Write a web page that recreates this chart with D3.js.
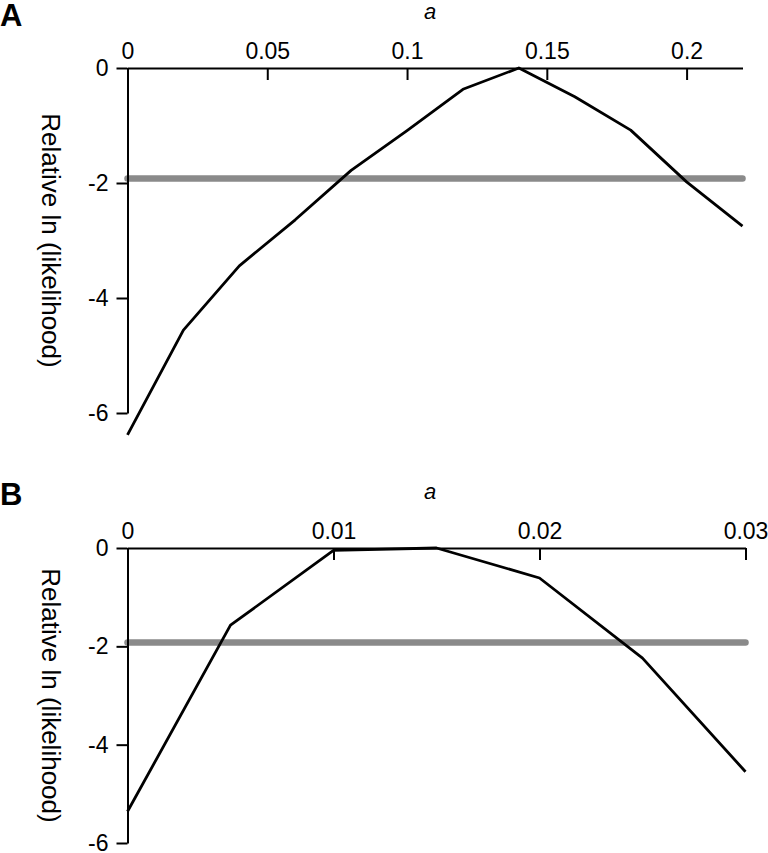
<!DOCTYPE html>
<html>
<head>
<meta charset="utf-8">
<script src="https://cdn.jsdelivr.net/npm/d3@7"></script>
<style>
  html, body { margin: 0; padding: 0; background: #fff; }
  svg { display: block; font-family: "Liberation Sans", Arial, sans-serif; }
</style>
</head>
<body>
<svg id="chart" width="768" height="853"></svg>
<script>
// Panel A data
const aValuesA = [0, 0.02, 0.04, 0.06, 0.08, 0.10, 0.12, 0.14, 0.16, 0.18, 0.20, 0.22];
const llValuesA = [-6.38, -4.56, -3.44, -2.64, -1.78, -1.09, -0.37, 0, -0.5, -1.08, -1.98, -2.75];
const xTicksA = [0, 0.05, 0.1, 0.15, 0.2];

// Panel B data
const aValuesB = [0, 0.005, 0.01, 0.015, 0.02, 0.025, 0.03];
const llValuesB = [-5.36, -1.57, -0.05, 0, -0.61, -2.24, -4.55];
const xTicksB = [0, 0.01, 0.02, 0.03];

const yTicks = [0, -2, -4, -6];
const threshold = -1.92;
const panelLabels = ["A", "B"];
const xTitle = "a";
const yTitle = "Relative ln (likelihood)";

const svg = d3.select("#chart");

const panels = [
  { label: panelLabels[0], xs: aValuesA, ys: llValuesA, xTicks: xTicksA, xDomain: [0, 0.22],
    left: 127.5, right: 742.5, top: 68, bottom: 413, labelY: 26, aY: 19 },
  { label: panelLabels[1], xs: aValuesB, ys: llValuesB, xTicks: xTicksB, xDomain: [0, 0.03],
    left: 127.5, right: 745.5, top: 548, bottom: 843, labelY: 505, aY: 499 }
];

panels.forEach(p => {
  const x = d3.scaleLinear().domain(p.xDomain).range([p.left, p.right]);
  const y = d3.scaleLinear().domain([0, -6]).range([p.top, p.bottom]);
  const g = svg.append("g");

  // panel letter
  g.append("text").attr("x", 0).attr("y", p.labelY)
    .attr("font-size", 31).attr("font-weight", "bold").attr("fill", "#000")
    .text(p.label);

  // x title
  g.append("text").attr("x", 430).attr("y", p.aY)
    .attr("text-anchor", "middle").attr("font-size", 22).attr("font-style", "italic")
    .text(xTitle);

  // threshold line
  g.append("line")
    .attr("x1", x(p.xDomain[0])).attr("x2", x(p.xDomain[1]))
    .attr("y1", y(threshold)).attr("y2", y(threshold))
    .attr("stroke", "#8a8a8a").attr("stroke-width", 6.5).attr("stroke-linecap", "round");

  // x axis (top)
  const xAxis = d3.axisTop(x).tickValues(p.xTicks).tickFormat(d => String(d))
    .tickSizeInner(-12).tickSizeOuter(0).tickPadding(9);
  const gx = g.append("g").attr("transform", `translate(0,${p.top})`).call(xAxis);

  // y axis
  const yAxis = d3.axisLeft(y).tickValues(yTicks).tickFormat(d => String(d))
    .tickSizeInner(11).tickSizeOuter(0).tickPadding(8);
  const gy = g.append("g").attr("transform", `translate(${p.left},0)`).call(yAxis);

  [gx, gy].forEach(ax => {
    ax.select(".domain").attr("stroke", "#000").attr("stroke-width", 2);
    ax.selectAll(".tick line").attr("stroke", "#000").attr("stroke-width", 2);
    ax.selectAll(".tick text").attr("fill", "#000").attr("font-size", 23)
      .attr("font-family", "'Liberation Sans', Arial, sans-serif");
  });

  // y title
  g.append("text")
    .attr("transform", `translate(51,${(p.top + p.bottom) / 2}) rotate(90)`)
    .attr("text-anchor", "middle").attr("dominant-baseline", "central")
    .attr("font-size", 26).text(yTitle);

  // curve
  const line = d3.line().x((d, i) => x(p.xs[i])).y(d => y(d));
  g.append("path").datum(p.ys).attr("d", line)
    .attr("fill", "none").attr("stroke", "#000").attr("stroke-width", 2.8)
    .attr("stroke-linejoin", "round");
});
</script>
</body>
</html>
